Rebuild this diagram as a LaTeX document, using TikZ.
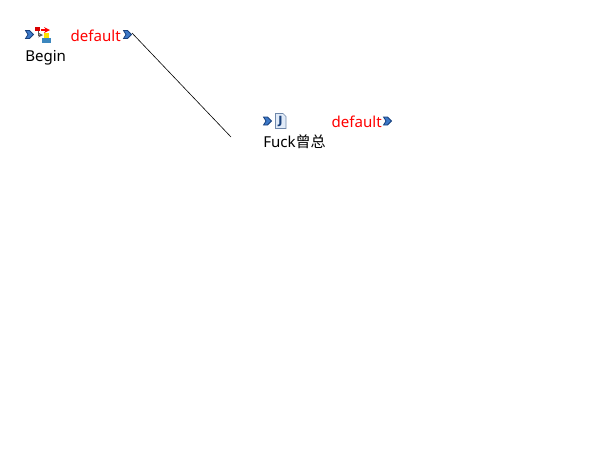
\documentclass[tikz,border=0pt]{standalone}
\usepackage{fontspec}
\setmainfont{Noto Sans}
\newfontfamily\cjk{Noto Sans CJK SC}
\newfontfamily\iconfont{DejaVu Sans}
\usetikzlibrary{positioning}

\definecolor{portblue}{RGB}{60,120,200}
\definecolor{portdark}{RGB}{25,65,125}
\definecolor{filepale}{RGB}{225,235,248}
\definecolor{fileedge}{RGB}{110,135,170}
\definecolor{blockblue}{RGB}{60,135,190}

\tikzset{
  x=0.75pt,y=-0.75pt,
  label text/.style={inner sep=0pt,anchor=base west,font=\fontsize{11.3pt}{13pt}\selectfont,text=black},
  port text/.style={label text,anchor=base east,text=red},
  port/.pic={
    \path [fill=portblue,draw=portdark,line width=0.6pt,line join=miter]
      (-4,-4) -- (0,-4) -- (4,0) -- (0,4) -- (-4,4) -- (-1.5,0) -- cycle;
  }
}

\begin{document}
\begin{tikzpicture}

  \useasboundingbox (0,0) rectangle (591,472);

  % Begin element
  \pic at (29.5,34.5) {port};
  \fill [red!85!black] (35,27) rectangle (40,31);
  \draw [gray!70!black,line width=0.6pt,->,>=stealth] (38,31) -- (38,35) -- (43,35);
  \draw [red,line width=1pt,->,>=stealth] (41,30) -- (50,30);
  \fill [yellow!85!orange] (44,33) rectangle (49,38);
  \fill [blockblue] (42,38) rectangle (51,43);
  \node [label text] (begin) at (25,61) {Begin};
  \node [port text] (beginDefault) at (121,41) {default};
  \pic at (127.5,34.5) {port};
  \coordinate (beginOut) at (132,33);

  % Fuck element
  \pic at (267.5,121) {port};
  \path [fill=filepale,draw=fileedge,line width=0.5pt]
    (275.5,113.5) -- (283,113.5) -- (286,116.5) -- (286,128.5) -- (275.5,128.5) -- cycle;
  \node [inner sep=0pt,font=\fontsize{8.5pt}{10pt}\iconfont\bfseries,text=portdark] (fileJ) at (280.5,121) {J};
  \node [label text] (fuck) at (263,147.5) {Fuck{\cjk 曾总}};
  \node [port text] (fuckDefault) at (382,127) {default};
  \pic at (387.5,121) {port};
  \coordinate (fuckIn) at (231,137);

  \draw [line width=0.45pt] (beginOut) -- (fuckIn);

\end{tikzpicture}
\end{document}
